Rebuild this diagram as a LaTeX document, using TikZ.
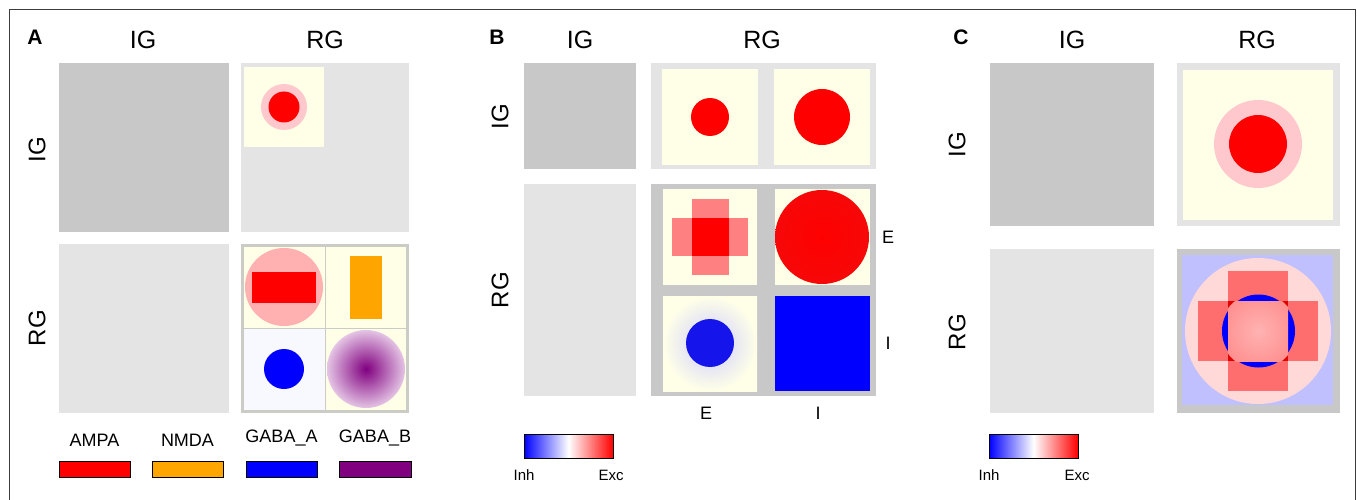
\documentclass[tikz,border=0pt]{standalone}
\usepackage{fontspec}
\setmainfont{Liberation Sans}
\definecolor{dg}{RGB}{200,200,200}
\definecolor{lg}{RGB}{228,228,228}
\definecolor{ivory}{RGB}{255,255,232}
\definecolor{lav}{RGB}{192,192,255}
\definecolor{palelav}{RGB}{248,248,255}
\definecolor{framegray}{RGB}{60,60,60}
\definecolor{halo}{RGB}{255,200,205}
\definecolor{pinkA}{RGB}{255,176,176}
\definecolor{pinkC}{RGB}{255,216,216}
\definecolor{arm}{RGB}{255,128,128}
\definecolor{armC}{RGB}{255,110,110}
\definecolor{nmda}{RGB}{255,165,0}
\definecolor{gabab}{RGB}{128,0,128}
\definecolor{purpleedge}{RGB}{228,196,228}
\definecolor{glow}{RGB}{205,205,255}
\definecolor{salmonin}{RGB}{255,178,178}
\definecolor{salmonout}{RGB}{255,140,140}
\definecolor{deepred}{RGB}{225,0,0}
\definecolor{rimred}{RGB}{246,8,8}
\definecolor{discblue}{RGB}{20,20,235}
\begin{document}
\begin{tikzpicture}[x=1pt,y=-1pt,
  every node/.style={inner sep=0pt},
  darkcell/.style={fill=dg},
  lightcell/.style={fill=lg},
  ivorycell/.style={fill=ivory},
  head/.style={font=\fontsize{25}{28}\selectfont},
  rowlab/.style={font=\fontsize{24}{28}\selectfont, rotate=90},
  letter/.style={font=\fontsize{21}{24}\selectfont\bfseries},
  legtext/.style={font=\fontsize{18}{20}\selectfont},
  celltext/.style={font=\fontsize{18}{20}\selectfont},
  cbtext/.style={font=\fontsize{15}{18}\selectfont},
  legbar/.style={draw=black, line width=0.8pt},
  cbar/.style={left color=blue, right color=red, middle color=white},
]
\useasboundingbox (0,0) rectangle (1357,500);

% outer frame (open at the bottom edge)
\draw[line width=1.5pt, draw=framegray] (9.5,505) -- (9.5,9.5) -- (1355.5,9.5) -- (1355.5,505);

% ---------------- Panel A ----------------
\node[letter] (aA) at (35,37) {A};
\node[head] (aIGc) at (143,40) {IG};
\node[head] (aRGc) at (325,40) {RG};
\node[rowlab] (aIGr) at (37,150) {IG};
\node[rowlab] (aRGr) at (37,328) {RG};

\fill[darkcell] (59,63) rectangle (229,232);
\fill[lightcell] (241,63) rectangle (409,232);
\fill[ivorycell] (244,67) rectangle (324,147);
\fill[halo] (284,107) circle (23);
\fill[red] (284,107) circle (15.5);

\fill[lightcell] (59,244) rectangle (229,413);
\fill[fill={rgb,255:red,204;green,204;blue,198}] (241,244) rectangle (409,413);
\fill[ivorycell] (244,247) rectangle (324.5,327.5);
\fill[ivorycell] (325.5,247) rectangle (406,327.5);
\fill[palelav] (244,328.5) rectangle (324.5,410);
\fill[ivorycell] (325.5,328.5) rectangle (406,410);
\fill[pinkA] (284,287) circle (39);
\fill[red] (252,272) rectangle (316,303);
\fill[nmda] (350,256) rectangle (382,319);
\fill[blue] (284,369) circle (20);
\shade[inner color=gabab, outer color=purpleedge] (366,369) circle (39);

\node[legtext] (lAMPA) at (94.5,440) {AMPA};
\node[legtext] (lNMDA) at (187.5,440) {NMDA};
\node[legtext] (lGABAA) at (281.5,438) {GABA\_A};
\node[legtext] (lGABAB) at (375,438) {GABA\_B};
\filldraw[legbar, fill=red] (59,461) rectangle (130,477);
\filldraw[legbar, fill=nmda] (152,461) rectangle (223,477);
\filldraw[legbar, fill=blue] (246,461) rectangle (317,477);
\filldraw[legbar, fill=gabab] (339,461) rectangle (411,477);

% ---------------- Panel B ----------------
\node[letter] (bB) at (497,37) {B};
\node[head] (bIGc) at (580,40) {IG};
\node[head] (bRGc) at (762,40) {RG};
\node[rowlab] (bIGr) at (500,117) {IG};
\node[rowlab] (bRGr) at (500,290) {RG};

\fill[darkcell] (524,63) rectangle (636,169);
\fill[lightcell] (651,63) rectangle (876,169);
\fill[ivorycell] (662,69) rectangle (758,165);
\fill[ivorycell] (774,69) rectangle (870,165);
\fill[red] (710,117) circle (19);
\fill[red] (822,117) circle (28);

\fill[lightcell] (524,184) rectangle (636,396);
\fill[darkcell] (651,184) rectangle (876,396);
\fill[ivorycell] (663,189) rectangle (757,285);
\fill[ivorycell] (775,189) rectangle (870,285);
% cross of E->E
\fill[arm] (692,199) rectangle (729,275);
\fill[arm] (672,218) rectangle (748,256);
\fill[red] (692,218) rectangle (729,256);
% disc of I->E
\shade[inner color=red, outer color=rimred] (822,237) circle (47);
% E->I with its faint surround
\shade[inner color=glow, outer color=ivory] (663,296) rectangle (757,391);
\fill[discblue] (710,343) circle (24);
% I->I
\fill[blue] (775,296) rectangle (870,391);

\node[celltext] (bEr) at (888,237) {E};
\node[celltext] (bIr) at (888,343) {I};
\node[celltext] (bEc) at (706,413) {E};
\node[celltext] (bIc) at (818,413) {I};

\shade[cbar] (524,434) rectangle (613,458);
\draw[line width=0.8pt] (524,434) rectangle (613,458);
\node[cbtext] (bInh) at (524,475) {Inh};
\node[cbtext] (bExc) at (611,475) {Exc};

% ---------------- Panel C ----------------
\node[letter] (cC) at (961,37) {C};
\node[head] (cIGc) at (1072,40) {IG};
\node[head] (cRGc) at (1257,40) {RG};
\node[rowlab] (cIGr) at (957,145) {IG};
\node[rowlab] (cRGr) at (957,332) {RG};

\fill[darkcell] (990,63) rectangle (1154,226);
\fill[lightcell] (1177,63) rectangle (1340,226);
\fill[ivorycell] (1183,70) rectangle (1333,220);
\fill[halo] (1258,144) circle (44);
\fill[red] (1258,144) circle (29);

\fill[lightcell] (990,249) rectangle (1154,413);
\fill[darkcell] (1177,249) rectangle (1340,413);
\fill[lav] (1182,255) rectangle (1333,405);
\fill[pinkC] (1258,331) circle (73);
\fill[armC] (1228,271) rectangle (1288,391);
\fill[armC] (1198,301) rectangle (1318,361);
\fill[deepred] (1228,301) rectangle (1288,361);
\fill[blue] (1258.5,331) circle (36.5);
\begin{scope}
  \clip (1228,301) rectangle (1288,361);
  \clip (1258.5,331) circle (38);
  \shade[inner color=salmonin, outer color=salmonout] (1258.5,331) circle (42);
\end{scope}

\shade[cbar] (989,434) rectangle (1078,458);
\draw[line width=0.8pt] (989,434) rectangle (1078,458);
\node[cbtext] (cInh) at (989,475) {Inh};
\node[cbtext] (cExc) at (1077,475) {Exc};
\end{tikzpicture}
\end{document}
